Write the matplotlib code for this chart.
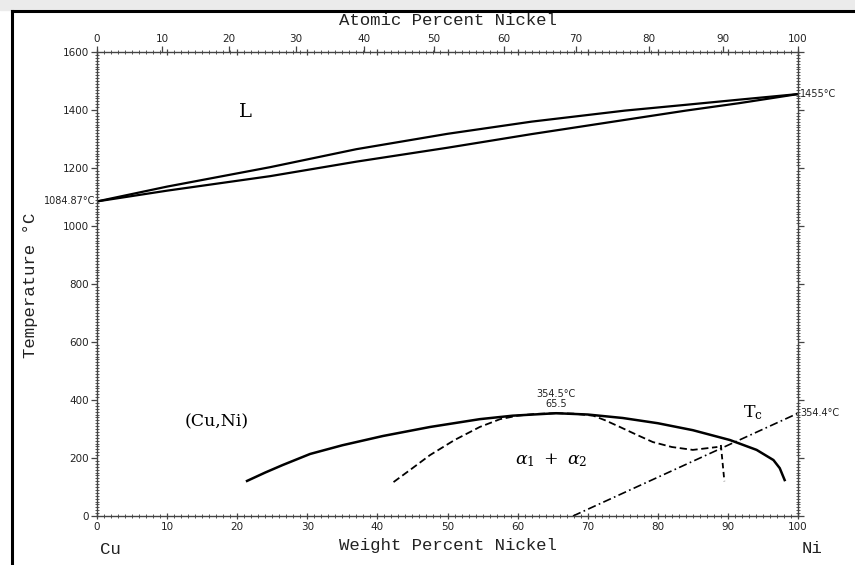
import numpy as np
import matplotlib
matplotlib.use("Agg")
import matplotlib.pyplot as plt
from matplotlib.ticker import MultipleLocator
from matplotlib.lines import Line2D
from matplotlib.patches import Rectangle

# Cu-Ni phase diagram (weight percent Ni vs temperature)
liq_wt = [0, 10, 24.7, 37, 50, 62, 75.3, 84, 91.7, 100]
liq_T = [1084.87, 1136, 1203, 1265, 1318, 1360, 1398, 1418, 1436, 1455]

sol_wt = [0, 10, 24.7, 37, 50, 62, 75.3, 84, 91.7, 100]
sol_T = [1084.87, 1122, 1172, 1222, 1270, 1317, 1366, 1398, 1424, 1455]

# miscibility gap boundary (solid)
gap_wt = [21.4, 24, 26.5, 30.4, 35, 40.8, 47.5, 54.6, 59.3, 65.5,
          70, 75, 80, 85, 90.3, 94.1, 96.5, 97.4, 98.1]
gap_T = [121, 150, 176, 214, 244, 276, 307, 334, 346, 354.5,
         350, 338, 320, 296, 262, 228, 193, 165, 124]

# dashed curve, left and right branches
spin_l_wt = [42.3, 45, 47.5, 51, 54.6, 57.5, 60, 62.5, 65.5]
spin_l_T = [117, 165, 210, 262, 307, 334, 346, 352, 354.5]
spin_r_wt = [65.5, 68, 70.8, 72.5, 74.6, 77, 79.3, 82, 85, 88.5]
spin_r_T = [354.5, 353, 346, 330, 307, 280, 255, 238, 228, 238]
drop_wt = [89.0, 89.5]
drop_T = [245, 120]

# Curie temperature line
tc_wt = [67.9, 100]
tc_T = [0, 354.4]

wt_ticks = list(range(0, 101, 10))
at_ticks = list(range(0, 101, 10))
T_ticks = list(range(0, 1601, 200))

M_CU, M_NI = 63.546, 58.693


def wt_to_at(w):
    w = np.clip(np.asarray(w, dtype=float), 0, 100)
    n_ni = w / M_NI
    n_cu = (100 - w) / M_CU
    return 100 * n_ni / np.maximum(n_ni + n_cu, 1e-12)


def at_to_wt(a):
    a = np.clip(np.asarray(a, dtype=float), 0, 100)
    m_ni = a * M_NI
    m_cu = (100 - a) * M_CU
    return 100 * m_ni / np.maximum(m_ni + m_cu, 1e-12)


fig = plt.figure(figsize=(8.55, 5.65), dpi=100)
ax = fig.add_axes([0.1135, 0.0867, 0.8198, 0.8212])

ax.plot(liq_wt, liq_T, color="black", lw=1.6)
ax.plot(sol_wt, sol_T, color="black", lw=1.6)
ax.plot(gap_wt, gap_T, color="black", lw=1.8)
ax.plot(spin_l_wt, spin_l_T, color="black", lw=1.3, ls=(0, (4, 2)))
ax.plot(spin_r_wt, spin_r_T, color="black", lw=1.3, ls=(0, (4, 2)))
ax.plot(drop_wt, drop_T, color="black", lw=1.3, ls=(0, (3, 2)))
ax.plot(tc_wt, tc_T, color="black", lw=1.2, ls=(0, (5, 2, 1, 2)))

ax.set_xlim(0, 100)
ax.set_ylim(0, 1600)

for s in ax.spines.values():
    s.set_color("#444444")
    s.set_linewidth(1.0)
    s.set_linestyle((0, (2, 1)))

ax.set_xticks(wt_ticks)
ax.set_yticks(T_ticks)
ax.xaxis.set_minor_locator(MultipleLocator(1))
ax.yaxis.set_minor_locator(MultipleLocator(10))
ax.tick_params(axis="x", which="major", direction="inout", length=5, width=0.9,
               color="#444444", labelsize=7.5, pad=2, top=True)
ax.tick_params(axis="y", which="major", direction="out", length=4, width=0.9,
               color="#444444", labelsize=7.5, pad=2, right=True)
ax.tick_params(which="minor", direction="inout", length=2.5, width=0.7,
               color="#555555", top=True, right=True)
for lab in ax.get_xticklabels() + ax.get_yticklabels():
    lab.set_color("#222222")

# atomic percent scale on top
sec = ax.secondary_xaxis("top", functions=(wt_to_at, at_to_wt))
sec.set_xticks(at_ticks)
sec.tick_params(direction="out", length=4, width=0.9, color="#444444",
                labelsize=7.5, pad=2, labelcolor="#222222")
sec.spines["top"].set_visible(False)

mono = "Liberation Mono"
fig.text(0.524, 0.963, "Atomic Percent Nickel", family=mono, fontsize=12.5,
         ha="center", va="center", color="#222222")
fig.text(0.524, 0.035, "Weight Percent Nickel", family=mono, fontsize=12.5,
         ha="center", va="center", color="#222222")
fig.text(0.036, 0.495, "Temperature °C", family=mono, fontsize=12.5,
         rotation=90, ha="center", va="center", color="#222222")
fig.text(0.129, 0.027, "Cu", family=mono, fontsize=12.5, ha="center",
         va="center", color="#222222")
fig.text(0.950, 0.030, "Ni", family=mono, fontsize=12.5, ha="center",
         va="center", color="#222222")

# region labels
ax.text(21.1, 1393, "L", family="DejaVu Serif", fontsize=14, ha="center",
        va="center")
ax.text(17.1, 324, "(Cu,Ni)", family="DejaVu Serif", fontsize=12.5,
        ha="center", va="center")
ax.text(64.8, 193, r"$\alpha_1\ +\ \alpha_2$", fontsize=12.5, ha="center",
        va="center", math_fontfamily="dejavuserif")
ax.text(93.6, 358, r"$\mathrm{T_c}$", fontsize=12.5, ha="center",
        va="center", math_fontfamily="dejavuserif")

# point annotations
small = dict(fontsize=7, color="#222222", va="center")
ax.text(-0.2, liq_T[0], f"{liq_T[0]:.2f}°C", ha="right", **small)
ax.text(100.3, liq_T[-1], f"{liq_T[-1]:.0f}°C", ha="left", **small)
ax.text(100.3, tc_T[-1], f"{tc_T[-1]:.1f}°C", ha="left", **small)
ax.text(65.5, 420, "354.5°C", ha="center", **small)
ax.text(65.5, 385, "65.5", ha="center", **small)

# page frame around the scan
fig.patches.append(Rectangle((0, 0.982), 1, 0.018, transform=fig.transFigure,
                             color="#ebebeb", zorder=0))
fig.lines.append(Line2D([0.0145, 0.0145], [0, 0.981], transform=fig.transFigure,
                        color="black", lw=2.2))
fig.lines.append(Line2D([0.0135, 1.0], [0.9805, 0.9805], transform=fig.transFigure,
                        color="black", lw=2.2))

fig.savefig("out.png", dpi=100)
